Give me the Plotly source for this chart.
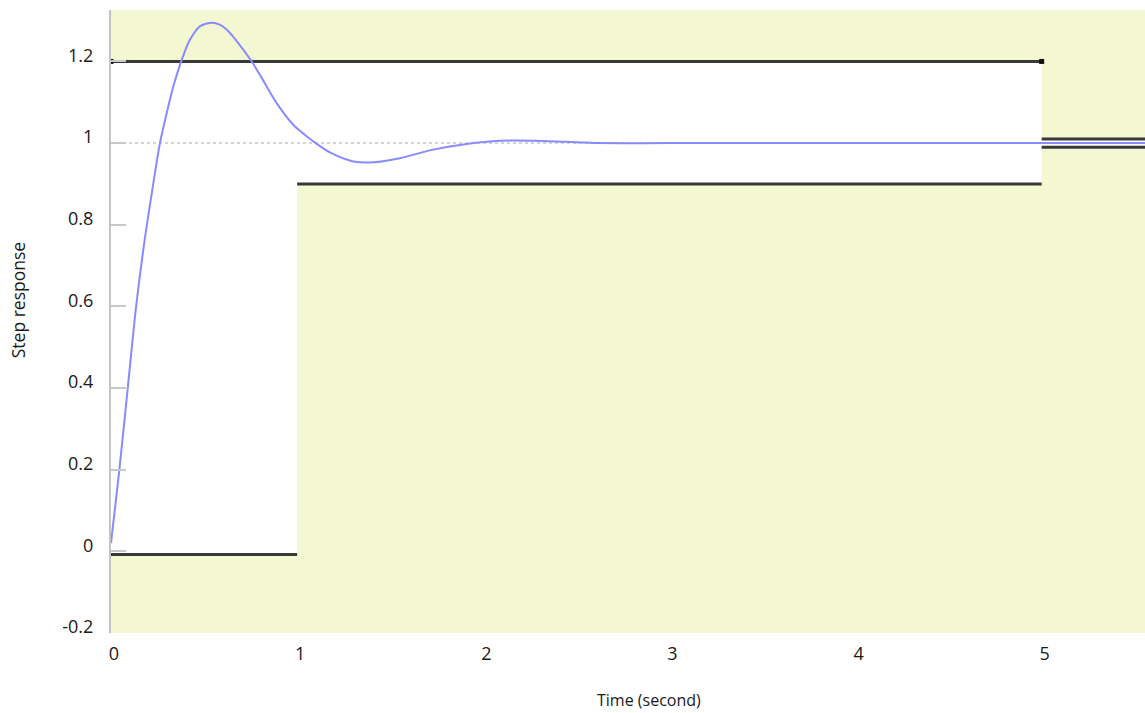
import plotly.graph_objects as go

# Step response
time_s = [0.0, 0.045, 0.09, 0.135, 0.18, 0.22, 0.263, 0.299, 0.335, 0.38, 0.424, 0.478,
          0.541, 0.585, 0.621, 0.675, 0.756, 0.818, 0.89, 0.979, 1.015, 1.087, 1.176,
          1.302, 1.41, 1.552, 1.731, 1.91, 2.089, 2.268, 2.447, 2.626, 3.0, 4.0, 5.0, 5.56]
response = [0.02, 0.2, 0.4, 0.6, 0.76, 0.88, 1.0, 1.073, 1.139, 1.204, 1.253, 1.286,
            1.295, 1.29, 1.278, 1.25, 1.2, 1.153, 1.098, 1.045, 1.03, 1.004, 0.977,
            0.955, 0.953, 0.963, 0.984, 0.998, 1.006, 1.006, 1.003, 1.0, 1.0, 1.0, 1.0, 1.0]

# Constraint bounds (segments)
upper_t = [[0, 5], [5, 5.56]]
upper_v = [[1.2, 1.2], [1.01, 1.01]]
lower_t = [[0, 1], [1, 5], [5, 5.56]]
lower_v = [[-0.008, -0.008], [0.9, 0.9], [0.99, 0.99]]

x_ticks = [0, 1, 2, 3, 4, 5]
y_ticks = [-0.2, 0, 0.2, 0.4, 0.6, 0.8, 1, 1.2]
y_tick_text = ["-0.2", "0", "0.2", "0.4", "0.6", "0.8", "1", "1.2"]
x_range = [0, 5.555]
y_range = [-0.2, 1.326]

YELLOW = "#f3f7d2"
BOUND = "#383838"

fig = go.Figure()

# White (allowed) regions between the bounds
shapes = []
region_upper = [upper_v[0][0], upper_v[0][0], upper_v[1][0]]
for (t0, t1), u, (l0, _) in zip(lower_t, region_upper, lower_v):
    shapes.append(dict(type="rect", xref="x", yref="y", x0=t0, x1=t1, y0=l0, y1=u,
                       fillcolor="white", line=dict(width=0), layer="below"))
# dotted reference at 1
shapes.append(dict(type="line", xref="x", yref="y", x0=0, x1=5, y0=1, y1=1,
                   line=dict(color="#d4d4d4", width=2, dash="dot"), layer="below"))

for i, (ts, vs) in enumerate(zip(upper_t, upper_v)):
    fig.add_trace(go.Scatter(x=ts, y=vs, mode="lines+markers" if i == 0 else "lines",
                             line=dict(color=BOUND, width=3),
                             marker=dict(symbol="square", size=5, color="#111111"),
                             hoverinfo="skip", showlegend=False))
for ts, vs in zip(lower_t, lower_v):
    fig.add_trace(go.Scatter(x=ts, y=vs, mode="lines", line=dict(color=BOUND, width=3),
                             hoverinfo="skip", showlegend=False))

fig.add_trace(go.Scatter(x=time_s, y=response, mode="lines",
                         line=dict(color="#8a8aff", width=2, shape="spline", smoothing=0.8),
                         showlegend=False))

fig.update_layout(
    width=1145, height=713,
    margin=dict(l=111, r=0, t=10, b=80),
    paper_bgcolor="white", plot_bgcolor=YELLOW,
    font=dict(family="Open Sans", size=18, color="#1a1a1a"),
    shapes=shapes,
    showlegend=False,
    annotations=[
        dict(text="Time (second)", xref="paper", yref="paper", x=0.520, y=-0.108,
             xanchor="center", yanchor="middle", showarrow=False,
             font=dict(size=16, color="#1a1a1a")),
        dict(text="Step response", xref="paper", yref="paper", x=-0.090, y=0.534,
             xanchor="center", yanchor="middle", showarrow=False, textangle=-90,
             font=dict(size=17.5, color="#1a1a1a")),
    ],
)
fig.update_xaxes(range=x_range, tickvals=x_ticks, ticktext=[str(v) for v in x_ticks],
                 showgrid=False, zeroline=False, showline=False, ticks="",
                 ticklabelstandoff=8, ticklabelshift=3)
fig.update_yaxes(range=y_range, tickvals=y_ticks, ticktext=y_tick_text,
                 showgrid=False, zeroline=False, showline=True, linecolor="#c4c4c4",
                 linewidth=2, ticks="inside", ticklen=15, tickwidth=2, tickcolor="#c8c8c8",
                 ticklabelstandoff=12, ticklabelshift=-6)

fig.write_html("out.html", config={"displayModeBar": False},
               post_script="document.body.style.margin='0';")
